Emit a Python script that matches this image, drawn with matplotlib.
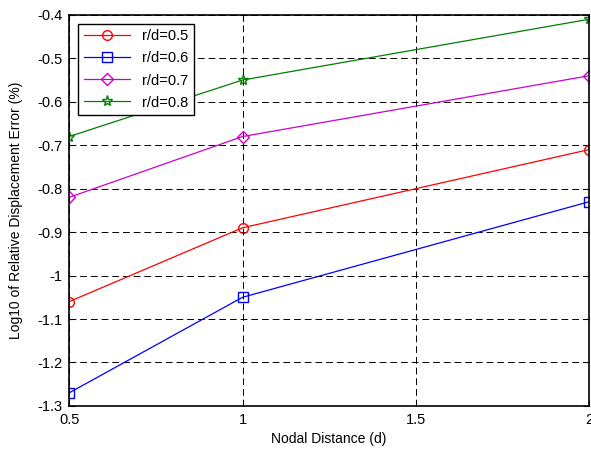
import matplotlib
matplotlib.use("Agg")
import matplotlib.pyplot as plt

plt.rcParams['font.family'] = ['Liberation Sans', 'DejaVu Sans']

nodal_distance = [0.5, 1.0, 2.0]
labels = ["r/d=0.5", "r/d=0.6", "r/d=0.7", "r/d=0.8"]
err_05 = [-1.06, -0.89, -0.71]
err_06 = [-1.27, -1.05, -0.83]
err_07 = [-0.82, -0.68, -0.54]
err_08 = [-0.68, -0.55, -0.41]

series = [err_05, err_06, err_07, err_08]
colors = ["#ff0000", "#0000ff", "#cc00cc", "#008000"]
markers = ["o", "s", "D", "*"]
msizes = [7, 7, 6, 8]

fig = plt.figure(figsize=(5.91, 4.51), dpi=100)
ax = fig.add_axes([0.117, 0.1, 0.88, 0.867])

for vals, lab, c, m, ms in zip(series, labels, colors, markers, msizes):
    ax.plot(nodal_distance, vals, color=c, marker=m, markersize=ms,
            markerfacecolor="none", markeredgecolor=c, linewidth=0.9, label=lab)

ax.set_xlim(0.5, 2)
ax.set_ylim(-1.3, -0.4)
ax.set_xticks([0.5, 1, 1.5, 2])
ax.set_xticklabels(["0.5", "1", "1.5", "2"])
ax.set_yticks([-1.3, -1.2, -1.1, -1.0, -0.9, -0.8, -0.7, -0.6, -0.5, -0.4])
ax.set_yticklabels(["-1.3", "-1.2", "-1.1", "-1", "-0.9", "-0.8", "-0.7", "-0.6", "-0.5", "-0.4"])
ax.tick_params(direction="in", labelsize=10.5, top=True, right=True, length=4, pad=5)
ax.grid(True, color="black", linestyle=(0, (7, 4)), linewidth=0.7)
for s in ax.spines.values():
    s.set_linewidth(1.2)

ax.set_xlabel("Nodal Distance (d)", fontsize=10, labelpad=4)
ax.set_ylabel("Log10 of Relative Displacement Error (%)", fontsize=10, labelpad=10)

leg = ax.legend(loc="upper left", fontsize=10.5, fancybox=False, framealpha=1,
                edgecolor="black", borderaxespad=0.6, handlelength=3.2,
                labelspacing=0.55)
leg.get_frame().set_linewidth(1.0)

fig.savefig("out.png", dpi=100)
